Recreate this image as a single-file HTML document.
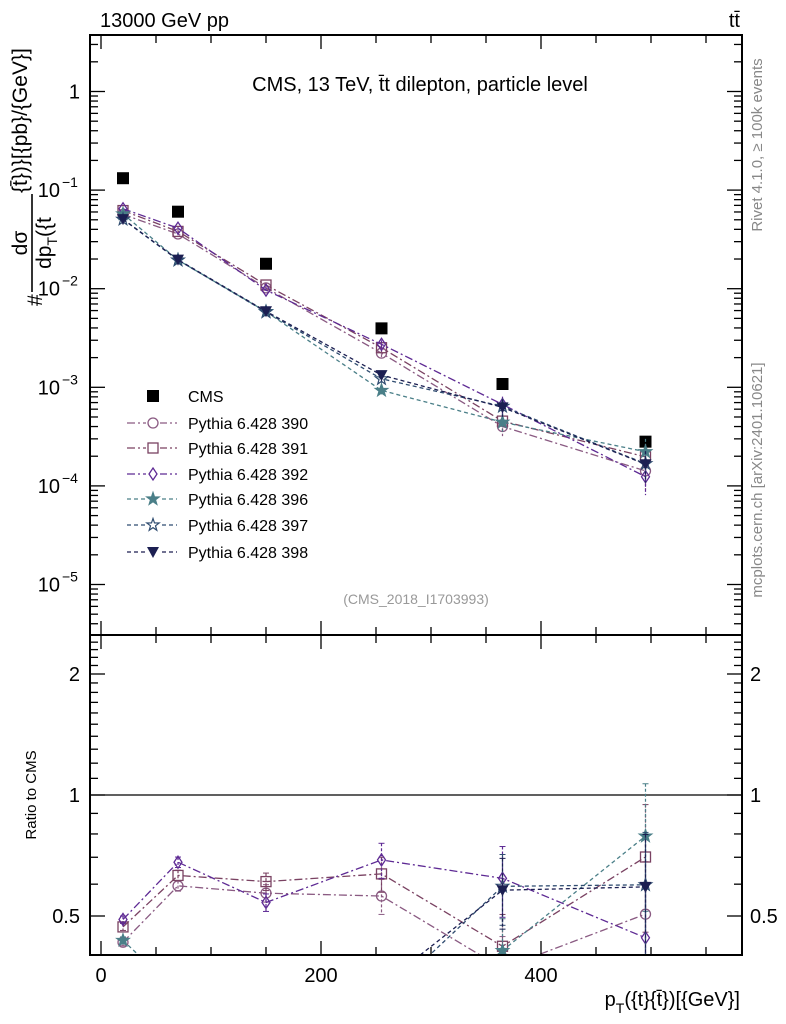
<!DOCTYPE html>
<html><head><meta charset="utf-8"><style>
body{margin:0;background:#fff}
svg{display:block;font-family:"Liberation Sans",sans-serif}
</style></head><body>
<svg id="chart" width="786" height="1024" viewBox="0 0 786 1024" xmlns="http://www.w3.org/2000/svg">
<g id="main"></g>
<g id="ratio"></g>
<g id="axes"></g>
<text x="100" y="27" font-size="20">13000 GeV pp</text>
<text x="740" y="27" font-size="20" text-anchor="end">tt̄</text>
<text x="420" y="91" font-size="20" text-anchor="middle">CMS, 13 TeV, t̄t dilepton, particle level</text>
<text x="416" y="604" font-size="14" fill="#999" text-anchor="middle">(CMS_2018_I1703993)</text>
<text transform="translate(762,145) rotate(-90)" font-size="15" fill="#888" text-anchor="middle">Rivet 4.1.0, ≥ 100k events</text>
<text transform="translate(762,480) rotate(-90)" font-size="15" fill="#888" text-anchor="middle">mcplots.cern.ch [arXiv:2401.10621]</text>
<g font-size="21">
<text transform="translate(42,306) rotate(-90)" text-anchor="start">#</text>
<text transform="translate(27,243) rotate(-90)" text-anchor="middle">dσ</text>
<line x1="32" y1="194" x2="32" y2="292" stroke="#000" stroke-width="1.6"/>
<text transform="translate(51,243) rotate(-90)" text-anchor="middle">dp<tspan font-size="14" dy="6">T</tspan><tspan dy="-6">({t</tspan></text>
<text transform="translate(27,193) rotate(-90)" text-anchor="start">{t̄})}[{pb}/{GeV}]</text>
</g>
<text transform="translate(36,795) rotate(-90)" font-size="15" text-anchor="middle">Ratio to CMS</text>
<text x="740" y="1006" font-size="20" text-anchor="end">p<tspan font-size="14" dy="7">T</tspan><tspan dy="-7">({t}{t̄})[{GeV}]</tspan></text>
<g id="legend"></g>
</svg>
<script>
const xCenters=[20,70,150,255,365,495];
const cmsVals=[0.132,0.0604,0.0179,0.00396,0.00108,0.000281];
const cmsErr=[0.004,0.002,0.0006,0.00015,0.00005,0.00002];
const seriesNames=["Pythia 6.428 390","Pythia 6.428 391","Pythia 6.428 392","Pythia 6.428 396","Pythia 6.428 397","Pythia 6.428 398"];
const s390=[0.0568,0.0359,0.0102,0.00222,0.00040,0.000142];
const s391=[0.0620,0.0381,0.0109,0.00252,0.000454,0.000197];
const s392=[0.0647,0.0411,0.00967,0.00273,0.00067,0.000124];
const s396=[0.0574,0.0195,0.00585,0.00093,0.000443,0.000222];
const s397=[0.0505,0.0195,0.0058,0.00122,0.00064,0.000168];
const s398=[0.0508,0.0197,0.0059,0.00133,0.000626,0.000166];
const relErr=[0.02,0.03,0.05,0.1,0.2,0.35];
const yMainTicks=[1,0.1,0.01,0.001,0.0001,0.00001];
const yMainLabels=["1","10","10","10","10","10"];
const yMainExp=["","−1","−2","−3","−4","−5"];
const xTicks=[0,200,400];
const ratioTicks=[0.5,1,2];
const ratioLabels=["0.5","1","2"];

const L=90,R=742,T=35,MB=635,RB=955;
const NS='http://www.w3.org/2000/svg';
function X(v){return 101+v*1.1;}
function YM(v){return 91.5-98.6*Math.log10(v);}
function YR(r){return 795-121*Math.log2(r);}
function mk(tag,attrs,parent){const e=document.createElementNS(NS,tag);for(const k in attrs)e.setAttribute(k,attrs[k]);parent.appendChild(e);return e;}
const svg=document.getElementById('chart');
const defs=mk('defs',{},svg);
const c1=mk('clipPath',{id:'cm'},defs);mk('rect',{x:L,y:T,width:R-L,height:MB-T},c1);
const c2=mk('clipPath',{id:'cr'},defs);mk('rect',{x:L,y:MB,width:R-L,height:RB-MB},c2);
const main=document.getElementById('main');main.setAttribute('clip-path','url(#cm)');
const ratio=document.getElementById('ratio');ratio.setAttribute('clip-path','url(#cr)');
const axes=document.getElementById('axes');

const styles=[
 {c:'#8a5a82',d:'8 3 2 3',m:'circle'},
 {c:'#7a4262',d:'8 3 2 3',m:'square'},
 {c:'#5e2a94',d:'8 3 2 3',m:'diamond'},
 {c:'#4a7f88',d:'4 3',m:'starf'},
 {c:'#2f4c70',d:'4 3',m:'staro'},
 {c:'#1c1f52',d:'4 3',m:'tri'}];
const allSeries=[s390,s391,s392,s396,s397,s398];

function marker(p,type,x,y,c){
 let e;
 if(type==='circle')e=mk('circle',{cx:x,cy:y,r:5,fill:'none',stroke:c,'stroke-width':1.3},p);
 else if(type==='square')e=mk('rect',{x:x-5,y:y-5,width:10,height:10,fill:'none',stroke:c,'stroke-width':1.3},p);
 else if(type==='diamond')e=mk('polygon',{points:`${x},${y-6} ${x+4},${y} ${x},${y+6} ${x-4},${y}`,fill:'none',stroke:c,'stroke-width':1.3},p);
 else if(type==='tri')e=mk('polygon',{points:`${x-6},${y-5} ${x+6},${y-5} ${x},${y+6}`,fill:c},p);
 else{let pts=[];for(let i=0;i<10;i++){const a=-Math.PI/2+i*Math.PI/5,r=i%2?2.6:6.5;pts.push((x+r*Math.cos(a)).toFixed(1)+','+(y+r*Math.sin(a)).toFixed(1));}
  e=mk('polygon',{points:pts.join(' '),fill:type==='starf'?c:'none',stroke:c,'stroke-width':1.2},p);}
 return e;
}

cmsVals.forEach((v,i)=>{
 const r=mk('rect',{x:X(xCenters[i])-6,y:YM(v)-6,width:12,height:12,fill:'#000'},main);
 
 
});
const ul=mk('line',{x1:L,x2:R,y1:YR(1),y2:YR(1),stroke:'#000','stroke-width':1.3},ratio);



allSeries.forEach((s,k)=>{
 const st=styles[k];
 const gm=mk('g',{},main);
 
 
 mk('polyline',{points:s.map((v,i)=>X(xCenters[i])+','+YM(v)).join(' '),fill:'none',stroke:st.c,'stroke-width':1.3,'stroke-dasharray':st.d},gm);
 const gr=mk('g',{},ratio);
 
 
 const rv=s.map((v,i)=>v/cmsVals[i]);
 mk('polyline',{points:rv.map((r,i)=>X(xCenters[i])+','+YR(r)).join(' '),fill:'none',stroke:st.c,'stroke-width':1.3,'stroke-dasharray':st.d},gr);
 s.forEach((v,i)=>{
  const x=X(xCenters[i]),e=relErr[i];
  mk('line',{x1:x,x2:x,y1:YM(v*(1+e)),y2:YM(v*(1-e)),stroke:st.c,'stroke-width':1.2,'stroke-dasharray':'3 2'},gm);
  const p=marker(gm,st.m,x,YM(v),st.c);
  
  
  const r=rv[i];
  mk('line',{x1:x,x2:x,y1:YR(r*(1+e)),y2:YR(r*(1-e)),stroke:st.c,'stroke-width':1.2,'stroke-dasharray':'3 2'},gr);
  mk('line',{x1:x-3,x2:x+3,y1:YR(r*(1+e)),y2:YR(r*(1+e)),stroke:st.c,'stroke-width':1},gr);
  mk('line',{x1:x-3,x2:x+3,y1:YR(r*(1-e)),y2:YR(r*(1-e)),stroke:st.c,'stroke-width':1},gr);
  const q=marker(gr,st.m,x,YR(r),st.c);
  
  
 });
});

mk('rect',{x:L,y:T,width:R-L,height:MB-T,fill:'none',stroke:'#000','stroke-width':2},axes);
mk('rect',{x:L,y:MB,width:R-L,height:RB-MB,fill:'none',stroke:'#000','stroke-width':2},axes);
for(let v=0;v<=550;v+=50){
 const x=X(v),len=(v%200===0)?14:8;
 [[T,1],[MB,-1],[MB,1],[RB,-1]].forEach(([y,d])=>mk('line',{x1:x,x2:x,y1:y,y2:y+d*len,stroke:'#000','stroke-width':1.3},axes));
}
xTicks.forEach(v=>{const t=mk('text',{x:X(v),y:982,'font-size':20,'text-anchor':'middle'},axes);t.textContent=v;
 
 });
for(let e=-6;e<=1;e++){for(let m=1;m<10;m++){const v=m*Math.pow(10,e);const y=YM(v);if(y<T||y>MB)continue;
 const len=m===1?15:8;
 mk('line',{x1:L,x2:L+len,y1:y,y2:y,stroke:'#000','stroke-width':1.3},axes);
 mk('line',{x1:R,x2:R-len,y1:y,y2:y,stroke:'#000','stroke-width':1.3},axes);}}
yMainTicks.forEach((v,i)=>{const t=mk('text',{x:yMainExp[i]?60:80,y:YM(v)+7,'font-size':20,'text-anchor':'end'},axes);
 t.textContent=yMainLabels[i];
 
 
 if(yMainExp[i]){const ex=mk('text',{x:62,y:YM(v)-3,'font-size':14},axes);ex.textContent=yMainExp[i];}});
const rmin=[0.5,0.6,0.7,0.8,0.9,1,1.1,1.2,1.3,1.4,1.5,1.6,1.7,1.8,1.9,2,2.1,2.2,2.3,2.4];
rmin.forEach(r=>{const y=YR(r);const len=(r===0.5||r===1||r===2)?15:8;
 mk('line',{x1:L,x2:L+len,y1:y,y2:y,stroke:'#000','stroke-width':1.3},axes);
 mk('line',{x1:R,x2:R-len,y1:y,y2:y,stroke:'#000','stroke-width':1.3},axes);});
ratioTicks.forEach((r,i)=>{[80,750].forEach(x=>{const t=mk('text',{x:x,y:YR(r)+7,'font-size':20,'text-anchor':x<100?'end':'start'},axes);t.textContent=ratioLabels[i];
 
 });});

const leg=document.getElementById('legend');
const rowsY=[396,423,448,474,499,525,552];
const lr=mk('rect',{x:147,y:rowsY[0]-6,width:12,height:12,fill:'#000'},leg);


const lt=mk('text',{x:188,y:rowsY[0]+6,'font-size':16},leg);lt.textContent='CMS';
seriesNames.forEach((n,k)=>{const y=rowsY[k+1],st=styles[k];
 const g=mk('g',{},leg);
 
 
 mk('line',{x1:127,x2:177,y1:y,y2:y,stroke:st.c,'stroke-width':1.3,'stroke-dasharray':st.d},g);
 mk('rect',{x:146,y:y-7,width:14,height:14,fill:'#fff'},g);
 marker(g,st.m,153,y,st.c);
 const t=mk('text',{x:188,y:y+6,'font-size':16},g);t.textContent=n;});
</script>
</body></html>
